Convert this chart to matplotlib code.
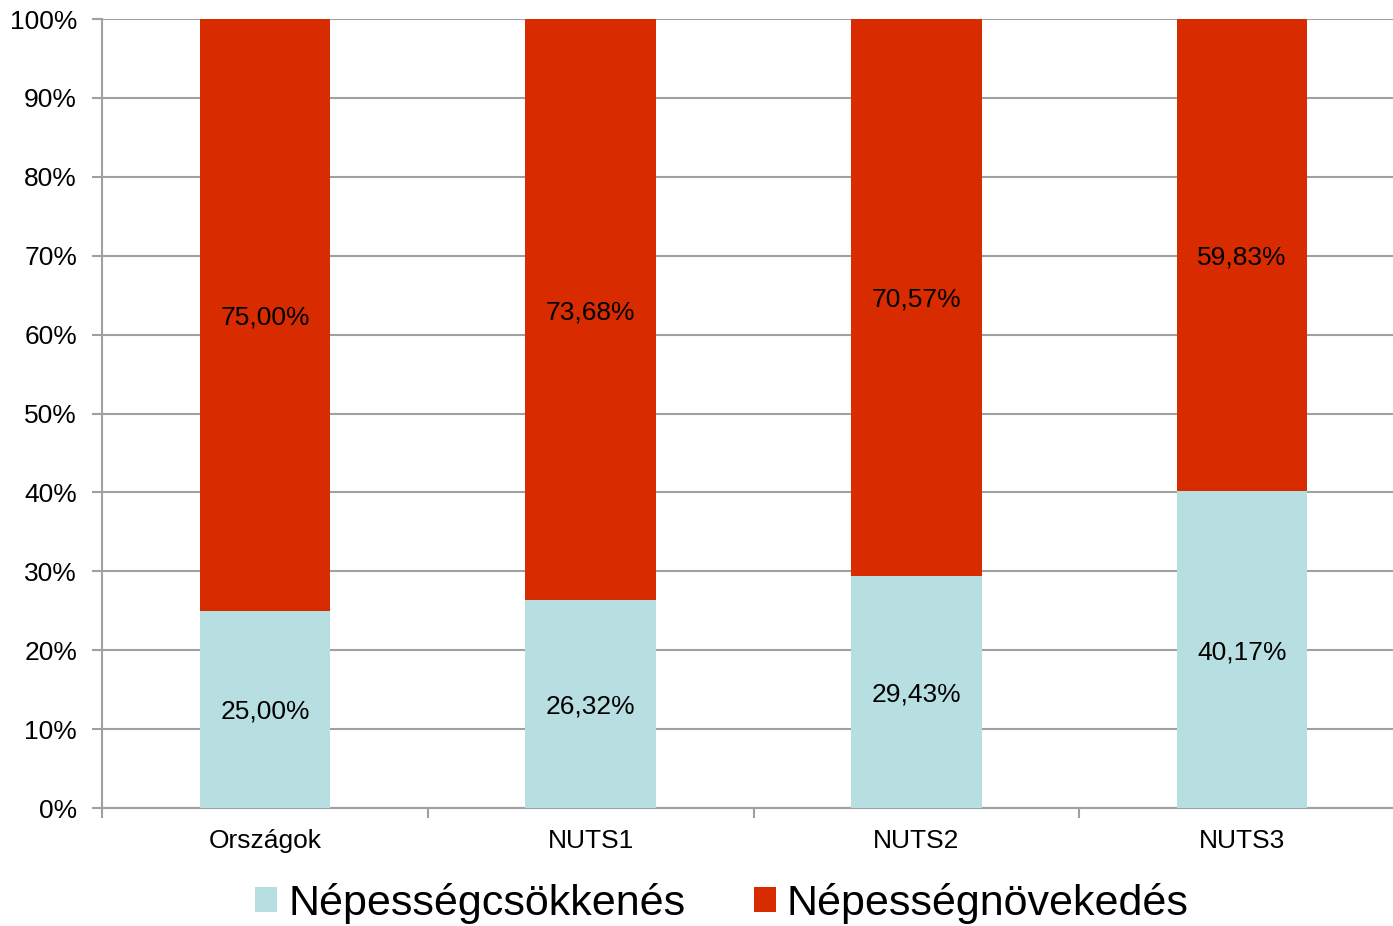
import matplotlib
matplotlib.use("Agg")
import matplotlib.pyplot as plt
import numpy as np

categories = ["Országok", "NUTS1", "NUTS2", "NUTS3"]
decrease = [25.00, 26.32, 29.43, 40.17]
increase = [75.00, 73.68, 70.57, 59.83]
series_names = ["Népességcsökkenés", "Népességnövekedés"]
yticks = [0, 10, 20, 30, 40, 50, 60, 70, 80, 90, 100]

plt.rcParams['font.family'] = ['Liberation Sans', 'DejaVu Sans']

W, H = 1393, 926
fig = plt.figure(figsize=(W/100, H/100), dpi=100)
left, right, top, bottom = 102, 1405, 19, 808
ax = fig.add_axes([left/W, 1 - bottom/H, (right-left)/W, (bottom-top)/H])

blue = "#b7dfe1"
red = "#d92b00"
grid_c = "#a0a0a0"

x = np.arange(len(categories))
ax.bar(x, decrease, width=0.4, color=blue, label=series_names[0], zorder=3)
ax.bar(x, increase, width=0.4, bottom=decrease, color=red, label=series_names[1], zorder=3)

def fmt(v):
    return f"{v:.2f}".replace(".", ",") + "%"

for i in x:
    ax.text(i, decrease[i]/2, fmt(decrease[i]), ha="center", va="center_baseline", fontsize=19, zorder=4)
    ax.text(i, decrease[i] + increase[i]/2, fmt(increase[i]), ha="center", va="center_baseline", fontsize=19, zorder=4)

ax.set_xlim(-0.5, len(categories) - 0.5)
ax.set_ylim(0, 100)
ax.set_yticks(yticks)
ax.set_yticklabels([f"{t}%" for t in yticks], fontsize=19)
ax.yaxis.grid(True, color=grid_c, linewidth=1.5, zorder=0)
ax.set_xticks(x)
ax.set_xticklabels(categories, fontsize=19)
ax.tick_params(axis="x", length=0, pad=15)
ax.set_xticks(np.arange(-0.5, len(categories), 1.0), minor=True)
ax.tick_params(axis="x", which="minor", length=7, width=1.5, color=grid_c)
ax.tick_params(axis="y", length=7, width=1.5, color=grid_c, pad=11)

for s in ["top", "right"]:
    ax.spines[s].set_visible(False)
for s in ["left", "bottom"]:
    ax.spines[s].set_color(grid_c)
    ax.spines[s].set_linewidth(1.5)

leg = fig.legend(loc="center", bbox_to_anchor=(722/W, 1 - 903/H), ncol=2, frameon=False,
                 fontsize=31, handlelength=0.51, handleheight=0.51, handletextpad=0.25,
                 columnspacing=1.6)

fig.savefig("out.png", dpi=100)
